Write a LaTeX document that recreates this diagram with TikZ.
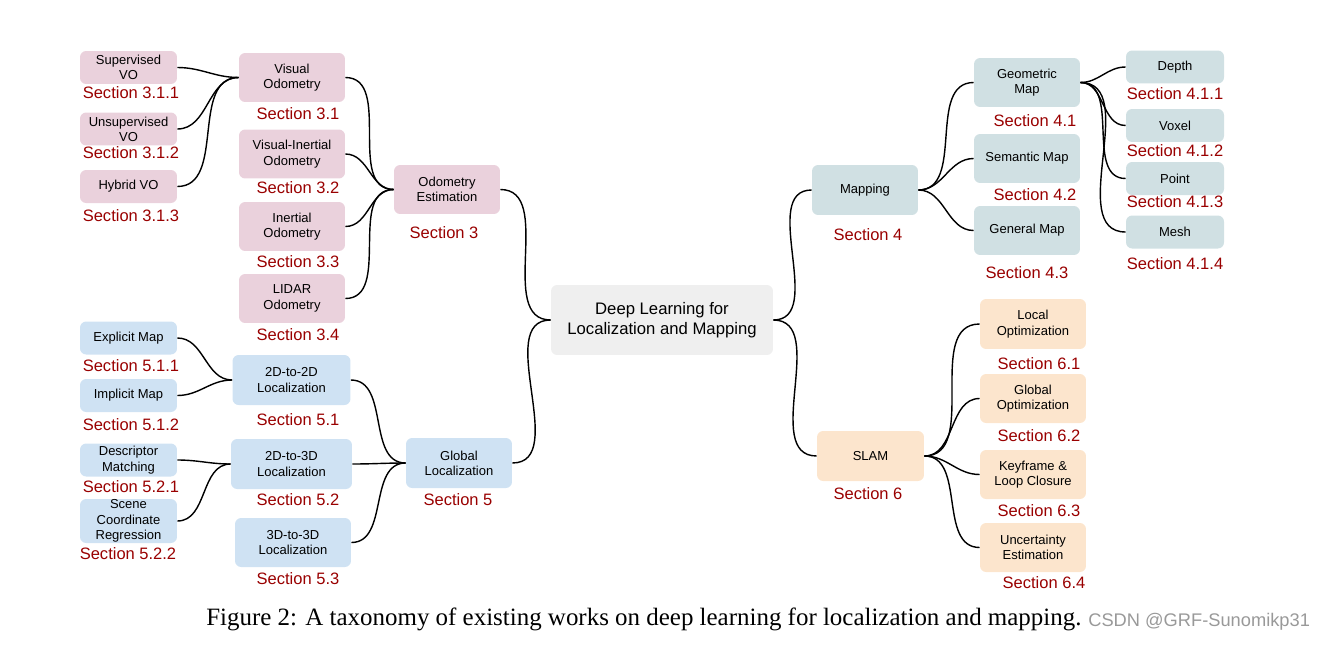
\documentclass[tikz,border=0pt]{standalone}
\usepackage{fontspec}
\setmainfont{Liberation Sans}
\newfontfamily\capfont{Liberation Serif}
\usepackage{tikz}
\usetikzlibrary{shapes}

\definecolor{pinkbox}{HTML}{EAD1DC}
\definecolor{bluebox}{HTML}{CFE2F3}
\definecolor{tealbox}{HTML}{D0E0E3}
\definecolor{orangebox}{HTML}{FCE5CD}
\definecolor{greybox}{HTML}{EFEFEF}
\definecolor{secred}{HTML}{990000}

\tikzset{
  box/.style={shape=rectangle,rounded corners=3.5pt,align=center,inner sep=0pt,
    font=\fontsize{7.4}{8.7}\selectfont},
  leaf/.style={box,minimum width=1.94cm,minimum height=0.66cm},
  branch/.style={box,minimum width=2.12cm,minimum height=0.98cm},
  sec/.style={text=secred,inner sep=0pt,font=\fontsize{9.4}{11}\selectfont},
  link/.style={-,draw=black,line width=0.8pt}
}

\begin{document}
\begin{tikzpicture}[x=0.02cm,y=-0.02cm]
\useasboundingbox (0,0) rectangle (1326,646);

% root
\node[box,fill=greybox,minimum width=4.44cm,minimum height=1.4cm,font=\fontsize{9.5}{11.4}\selectfont] (0) at (662,320) {Deep Learning for\\Localization and Mapping};

% odometry
\node[branch,fill=pinkbox] (1) at (447,189.5) {Odometry\\Estimation};
\node[sec] (s1) at (444,233) {Section 3};
\node[branch,fill=pinkbox] (11) at (292,77.5) {Visual\\Odometry};
\node[sec] (s11) at (298,114) {Section 3.1};
\node[branch,fill=pinkbox] (12) at (292,154) {Visual-Inertial\\Odometry};
\node[sec] (s12) at (298,188) {Section 3.2};
\node[branch,fill=pinkbox] (13) at (292,226.5) {Inertial\\Odometry};
\node[sec] (s13) at (298,262) {Section 3.3};
\node[branch,fill=pinkbox] (14) at (292,298.5) {LIDAR\\Odometry};
\node[sec] (s14) at (298,335) {Section 3.4};
\node[leaf,fill=pinkbox] (111) at (128.5,67.5) {Supervised\\VO};
\node[sec] (s111) at (131,93) {Section 3.1.1};
\node[leaf,fill=pinkbox] (112) at (128.5,129) {Unsupervised\\VO};
\node[sec] (s112) at (131,153) {Section 3.1.2};
\node[leaf,fill=pinkbox] (113) at (128.5,186.5) {Hybrid VO};
\node[sec] (s113) at (131,216) {Section 3.1.3};

% global localization
\node[branch,fill=bluebox,minimum height=1cm] (2) at (459,463) {Global\\Localization};
\node[sec] (s2) at (458,500) {Section 5};
\node[branch,fill=bluebox,minimum width=2.36cm,minimum height=1cm] (21) at (291.5,380) {2D-to-2D\\Localization};
\node[sec] (s21) at (298,420) {Section 5.1};
\node[branch,fill=bluebox,minimum width=2.42cm,minimum height=1cm] (22) at (291.5,464) {2D-to-3D\\Localization};
\node[sec] (s22) at (298,500) {Section 5.2};
\node[branch,fill=bluebox,minimum width=2.32cm] (23) at (293,542.5) {3D-to-3D\\Localization};
\node[sec] (s23) at (298,579) {Section 5.3};
\node[leaf,fill=bluebox] (211) at (128.5,338) {Explicit Map};
\node[sec] (s211) at (131,366) {Section 5.1.1};
\node[leaf,fill=bluebox] (212) at (128.5,395.5) {Implicit Map};
\node[sec] (s212) at (131,425) {Section 5.1.2};
\node[leaf,fill=bluebox] (221) at (128.5,460) {Descriptor\\Matching};
\node[sec] (s221) at (131,487) {Section 5.2.1};
\node[leaf,fill=bluebox,minimum height=0.88cm] (222) at (128.5,521) {Scene\\Coordinate\\Regression};
\node[sec] (s222) at (128,554) {Section 5.2.2};

% mapping
\node[branch,fill=tealbox,minimum height=1cm] (3) at (865,190) {Mapping};
\node[sec] (s3) at (868,235) {Section 4};
\node[branch,fill=tealbox] (31) at (1027,82.5) {Geometric\\Map};
\node[sec] (s31) at (1035,121) {Section 4.1};
\node[branch,fill=tealbox] (32) at (1027,158.5) {Semantic Map};
\node[sec] (s32) at (1035,195) {Section 4.2};
\node[branch,fill=tealbox] (33) at (1027,230.5) {General Map};
\node[sec] (s33) at (1027,273) {Section 4.3};
\node[leaf,fill=tealbox,minimum width=1.96cm] (311) at (1175,67) {Depth};
\node[sec] (s311) at (1175,94) {Section 4.1.1};
\node[leaf,fill=tealbox,minimum width=1.96cm] (312) at (1175,125.5) {Voxel};
\node[sec] (s312) at (1175,151) {Section 4.1.2};
\node[leaf,fill=tealbox,minimum width=1.96cm] (313) at (1175,178.5) {Point};
\node[sec] (s313) at (1175,202) {Section 4.1.3};
\node[leaf,fill=tealbox,minimum width=1.96cm] (314) at (1175,232) {Mesh};
\node[sec] (s314) at (1175,264) {Section 4.1.4};

% slam
\node[branch,fill=orangebox,minimum width=2.14cm,minimum height=1cm] (4) at (870.5,456) {SLAM};
\node[sec] (s4) at (868,494) {Section 6};
\node[branch,fill=orangebox,minimum height=1cm] (41) at (1033,324) {Local\\Optimization};
\node[sec] (s41) at (1039,364) {Section 6.1};
\node[branch,fill=orangebox] (42) at (1033,398.5) {Global\\Optimization};
\node[sec] (s42) at (1039,436) {Section 6.2};
\node[branch,fill=orangebox] (43) at (1033,474.5) {Keyframe \&\\Loop Closure};
\node[sec] (s43) at (1039,511) {Section 6.3};
\node[branch,fill=orangebox] (44) at (1033,547.5) {Uncertainty\\Estimation};
\node[sec] (s44) at (1044,583) {Section 6.4};

% caption
\node[anchor=base west,inner sep=0pt,font=\capfont\fontsize{14.2}{16}\selectfont] (cap) at (206,625) {Figure 2: A taxonomy of existing works on deep learning for localization and mapping.};
\node[anchor=base west,inner sep=0pt,text=black!40,font=\fontsize{10.4}{12}\selectfont] (wm) at (1088,626) {CSDN @GRF-Sunomikp31};

\path [link] (0.west) edge[out=180,in=0] (1.east);
\path [link] (0.west) edge[out=180,in=0] (2.east);
\path [link] (0.east) edge[out=0,in=180] (3.west);
\path [link] (0.east) edge[out=0,in=180] (4.west);

\path [link] (1.west) edge[out=180,in=0] (11.east);
\path [link] (1.west) edge[out=180,in=0] (12.east);
\path [link] (1.west) edge[out=180,in=0] (13.east);
\path [link] (1.west) edge[out=180,in=0] (14.east);
\path [link] (11.west) edge[out=180,in=0] (111.east);
\path [link] (11.west) edge[out=180,in=0] (112.east);
\path [link] (11.west) edge[out=180,in=0] (113.east);

\path [link] (2.west) edge[out=180,in=0] (21.east);
\path [link] (2.west) edge[out=180,in=0] (22.east);
\path [link] (2.west) edge[out=180,in=0] (23.east);
\path [link] (21.west) edge[out=180,in=0] (211.east);
\path [link] (21.west) edge[out=180,in=0] (212.east);
\path [link] (22.west) edge[out=180,in=0] (221.east);
\path [link] (22.west) edge[out=180,in=0] (222.east);

\path [link] (3.east) edge[out=0,in=180] (31.west);
\path [link] (3.east) edge[out=0,in=180] (32.west);
\path [link] (3.east) edge[out=0,in=180] (33.west);
\path [link] (31.east) edge[out=0,in=180] (311.west);
\path [link] (31.east) edge[out=0,in=180] (312.west);
\path [link] (31.east) edge[out=0,in=180] (313.west);
\path [link] (31.east) edge[out=0,in=180] (314.west);

\path [link] (4.east) edge[out=0,in=180] (41.west);
\path [link] (4.east) edge[out=0,in=180] (42.west);
\path [link] (4.east) edge[out=0,in=180] (43.west);
\path [link] (4.east) edge[out=0,in=180] (44.west);
\end{tikzpicture}
\end{document}
